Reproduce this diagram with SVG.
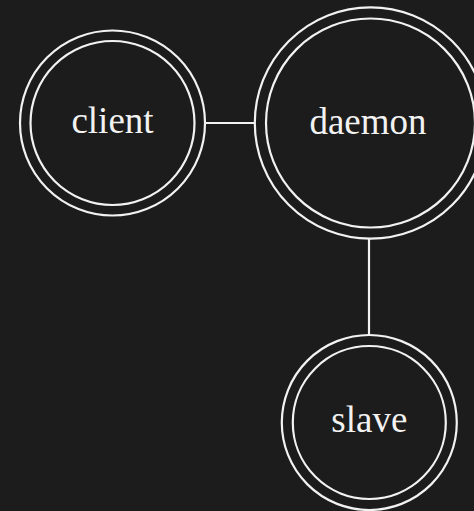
<svg xmlns="http://www.w3.org/2000/svg" width="474" height="511" viewBox="0 0 474 511">
<style>
.ring{fill:none;stroke:#f2f2f2;stroke-width:2.2}
.edge{stroke:#f2f2f2;stroke-width:2.2;fill:none}
.lbl{font-family:"Liberation Serif","Times New Roman",serif;font-size:37px;fill:#f2f2f2;text-anchor:middle}
</style>
<rect width="474" height="511" fill="#1c1c1c"/>
<g id="connectors">
<line class="edge" x1="205" y1="123" x2="255" y2="123"/>
<line class="edge" x1="369" y1="239" x2="369" y2="335"/>
</g>
<g id="client">
<circle class="ring" cx="112.5" cy="123" r="92.5"/>
<circle class="ring" cx="112.5" cy="123" r="82"/>
<text class="lbl" x="112.5" y="133">client</text>
</g>
<g id="daemon">
<circle class="ring" cx="370.5" cy="123" r="115.7"/>
<circle class="ring" cx="370.5" cy="123" r="104.5"/>
<text class="lbl" x="368" y="133.5">daemon</text>
</g>
<g id="slave">
<circle class="ring" cx="369.3" cy="422.5" r="87.5"/>
<circle class="ring" cx="369.3" cy="422.5" r="76.5"/>
<text class="lbl" x="369.3" y="432">slave</text>
</g>
</svg>
